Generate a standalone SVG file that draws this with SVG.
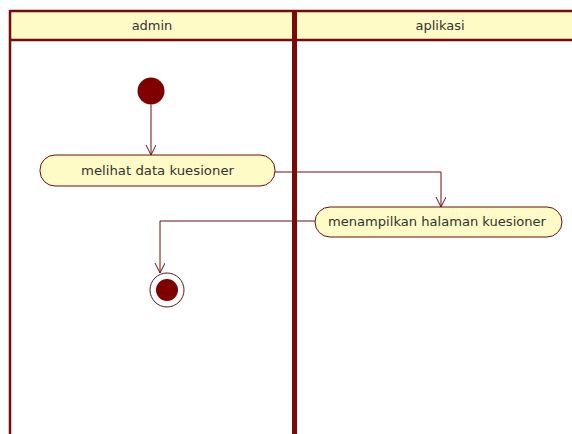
<svg xmlns="http://www.w3.org/2000/svg" width="572" height="434" viewBox="0 0 572 434">
<style>
.lane{stroke:#7a0a0a;fill:none}
.hdr{fill:#fffbc6}
.act{fill:#fffbc6;stroke:#6b1010;stroke-width:1}
.txt{font-family:"DejaVu Sans",sans-serif;font-size:13px;fill:#333;text-anchor:middle}
.con{stroke:#6b1010;stroke-width:1;fill:none;marker-end:url(#arr)}
</style>
<defs>
<marker id="arr" markerWidth="12" markerHeight="12" refX="10" refY="5" orient="auto" markerUnits="userSpaceOnUse">
<path d="M0,0 L10,5 L0,10" fill="none" stroke="#6b1010" stroke-width="1"/>
</marker>
</defs>
<rect width="572" height="434" fill="#ffffff"/>
<g id="swimlanes">
<rect class="hdr" x="10" y="11" width="562" height="29"/>
<line class="lane" x1="10" y1="11" x2="572" y2="11" stroke-width="2.5"/>
<line class="lane" x1="10" y1="40" x2="572" y2="40" stroke-width="2.5"/>
<line class="lane" x1="10" y1="10" x2="10" y2="434" stroke-width="2.5"/>
<line class="lane" x1="294.5" y1="10" x2="294.5" y2="434" stroke-width="5"/>
<text class="txt" x="152" y="30">admin</text>
<text class="txt" x="440" y="30">aplikasi</text>
</g>
<g id="start">
<circle cx="151" cy="91" r="13.5" fill="#800000"/>
</g>
<g id="melihat">
<rect class="act" x="40" y="155" width="235" height="31" rx="15" ry="15"/>
<text class="txt" x="157.5" y="175" textLength="153" lengthAdjust="spacingAndGlyphs">melihat data kuesioner</text>
</g>
<g id="menampilkan">
<rect class="act" x="315" y="207" width="247" height="30" rx="15" ry="15"/>
<text class="txt" x="437" y="226" textLength="218" lengthAdjust="spacingAndGlyphs">menampilkan halaman kuesioner</text>
</g>
<g id="end">
<circle cx="167" cy="290" r="17" fill="#ffffff" stroke="#5a1a1a" stroke-width="1"/>
<circle cx="167" cy="290" r="11" fill="#800000"/>
</g>
<g id="connectors">
<path class="con" d="M151,104.5 L151,155"/>
<path class="con" d="M275,172 L441,172 L441,207"/>
<path class="con" d="M315,221 L160,221 L160,273"/>
</g>
</svg>
